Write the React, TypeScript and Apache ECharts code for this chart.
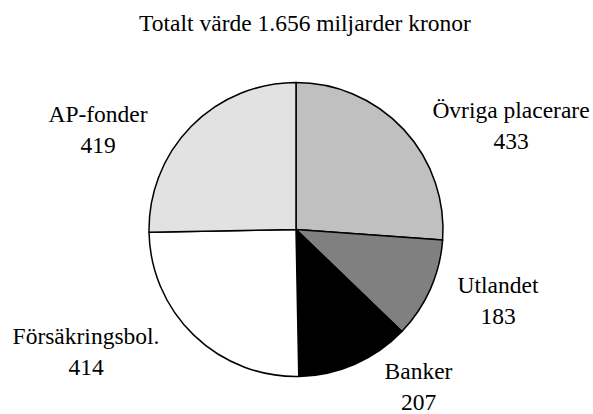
import React, { useEffect, useRef } from "react";
import * as echarts from "echarts";

const titleText = "Totalt värde 1.656 miljarder kronor";
const categories = ["Övriga placerare", "Utlandet", "Banker", "Försäkringsbol.", "AP-fonder"];
const values = [433, 183, 207, 414, 419];
const colors = ["#c0c0c0", "#808080", "#000000", "#ffffff", "#e2e2e2"];
// label block centers (pixels)
const labelPos: [number, number][] = [
  [511, 125],
  [498, 300],
  [418.5, 386],
  [86, 351.5],
  [98, 129],
];

const FONT = "'Liberation Serif', 'Times New Roman', serif";

export default function App() {
  const ref = useRef<HTMLDivElement>(null);
  useEffect(() => {
    if (!ref.current) return;
    const chart = echarts.init(ref.current, undefined, { renderer: "svg" });
    chart.setOption({
      animation: false,
      backgroundColor: "#ffffff",
      title: {
        text: titleText,
        left: 305,
        top: 10,
        textAlign: "center",
        padding: 0,
        textStyle: {
          fontFamily: FONT,
          fontSize: 23.5,
          fontWeight: "normal",
          color: "#000",
          lineHeight: 25,
        },
      },
      series: [
        {
          type: "pie",
          center: [296, 229.5],
          radius: 147,
          startAngle: 90,
          clockwise: true,
          avoidLabelOverlap: false,
          data: categories.map((c, i) => ({
            name: c,
            value: values[i],
            itemStyle: { color: colors[i] },
          })),
          itemStyle: { borderColor: "#000", borderWidth: 1.5 },
          label: {
            show: true,
            position: "outside",
            formatter: "{b}\n{c}",
            fontFamily: FONT,
            fontSize: 23.5,
            lineHeight: 31,
            color: "#000",
            align: "center",
            verticalAlign: "middle",
          },
          labelLine: { show: false },
          labelLayout: (params: any) => ({
            x: labelPos[params.dataIndex][0],
            y: labelPos[params.dataIndex][1],
            align: "center",
            verticalAlign: "middle",
          }),
          emphasis: { disabled: true },
        },
      ],
    });
    return () => chart.dispose();
  }, []);
  return (
    <div
      ref={ref}
      style={{ position: "absolute", left: 0, top: 0, width: 593, height: 414 }}
    />
  );
}
